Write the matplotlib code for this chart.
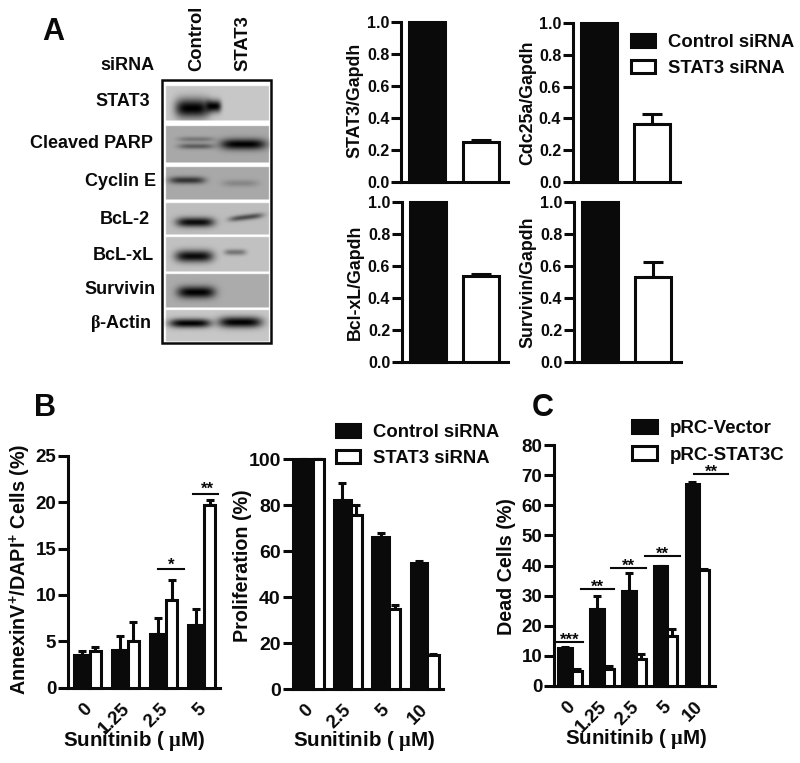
import numpy as np
from matplotlib import pyplot as plt
from matplotlib.patches import Patch, Rectangle

# Panel A quantification
a_ylabels = ["STAT3/Gapdh", "Cdc25a/Gapdh", "Bcl-xL/Gapdh", "Survivin/Gapdh"]
a_control = [1.0, 1.0, 1.0, 1.0]
a_stat3 = [0.245, 0.365, 0.54, 0.53]
a_stat3_err = [0.015, 0.06, 0.01, 0.095]

# Panel B, apoptosis
b1_labels = ["0", "1.25", "2.5", "5"]
b1_control = [3.5, 4.0, 5.8, 6.8]
b1_control_err = [0.4, 1.6, 1.7, 1.7]
b1_stat3 = [3.9, 5.0, 9.5, 19.7]
b1_stat3_err = [0.5, 2.1, 2.1, 0.5]

# Panel B, proliferation
b2_labels = ["0", "2.5", "5", "10"]
b2_control = [100, 82, 66, 55]
b2_control_err = [0, 7.5, 2, 0.5]
b2_stat3 = [100, 75.5, 35, 15]
b2_stat3_err = [0, 4.5, 1.5, 0.3]

# Panel C
c_labels = ["0", "1.25", "2.5", "5", "10"]
c_vector = [12.7, 25.5, 31.5, 40, 67]
c_vector_err = [0.3, 4.5, 6, 0, 0.8]
c_stat3c = [5, 5.5, 9, 16.5, 38.5]
c_stat3c_err = [0.8, 1, 1.5, 2.5, 0.2]
c_sig_labels = ["***", "**", "**", "**", "**"]
c_sig_y = [14.7, 32.2, 39.3, 43, 70.4]

# Western blot, lane labels and background grey of each strip
blot_labels = ["STAT3", "Cleaved PARP", "Cyclin E", "BcL-2", "BcL-xL", "Survivin", r"$\mathrm{\beta}$-Actin"]
blot_label_x = [123, 92, 121, 125, 123, 120, 121]
blot_label_y = [102, 144, 181, 220, 256, 289, 324]
strip_top = [86, 126, 167, 203, 237, 274, 310]
strip_bottom = [120, 162, 199, 234, 271, 307, 341]
strip_grey = [0.78, 0.66, 0.66, 0.74, 0.76, 0.67, 0.78]
# strip index, x centre, half width, y centre, half height, darkness, tilt
bands = [
    (0, 192, 17, 108, 9.5, 1.0, 0), (0, 213, 8, 106, 6, 1.0, 0),
    (1, 196, 18, 139, 2.6, 0.3, 0), (1, 196, 18, 146, 2.8, 0.45, 0), (1, 243, 23, 144, 5.5, 1.0, 0),
    (2, 187, 18, 180, 3.6, 0.7, 0), (2, 240, 18, 183, 3.5, 0.2, 0),
    (3, 195, 19, 222, 4.8, 0.95, 0), (3, 246, 17, 217, 2.8, 0.6, -0.12),
    (4, 194, 19, 256, 6, 0.95, 0), (4, 235, 11, 252, 3, 0.4, 0),
    (5, 196, 19, 292, 6, 1.0, 0),
    (6, 190, 21, 323, 4.5, 1.0, 0), (6, 240, 22, 322, 5.5, 1.0, 0),
]

plt.rcParams["font.family"] = ["Liberation Sans", "DejaVu Sans"]
plt.rcParams["font.weight"] = "bold"
plt.rcParams["axes.labelweight"] = "bold"
plt.rcParams["mathtext.fontset"] = "custom"
plt.rcParams["mathtext.rm"] = "Liberation Serif"
plt.rcParams["mathtext.bf"] = "Liberation Sans:bold"

W, H = 800, 763
LW = 2.2
INK = "#0a0a0a"
UM = r"Sunitinib ( $\mathrm{\mu}$M)"

fig = plt.figure(figsize=(W / 100, H / 100), dpi=100)


def make_axes(left, right, top, bottom, ymax, yticks, fmt, size):
    ax = fig.add_axes([left / W, 1 - bottom / H, (right - left) / W, (bottom - top) / H])
    ax.set_xlim(0, right - left)
    ax.set_ylim(0, ymax)
    ax.patch.set_alpha(0)
    for side in ["top", "right"]:
        ax.spines[side].set_visible(False)
    for side in ["left", "bottom"]:
        ax.spines[side].set_linewidth(LW)
        ax.spines[side].set_color(INK)
    ax.set_yticks(yticks)
    ax.set_yticklabels([fmt % t for t in yticks], fontsize=size, color=INK)
    ax.tick_params(axis="y", length=7, width=LW, pad=1.5, color=INK)
    ax.tick_params(axis="x", length=0)
    ax.set_xticks([])
    return ax


def put_ylabel(ax, text, x_px, y_px, left, top, bottom, size):
    ax.set_ylabel(text, fontsize=size, color=INK, va="center")
    ax.yaxis.set_label_coords((x_px - left) / ax.get_xlim()[1], (bottom - y_px) / (bottom - top))


def draw_bars(ax, first, second, first_err, second_err, start, pitch, w1, w2, cap):
    x1 = start + pitch * np.arange(len(first))
    x2 = x1 + w1
    ax.bar(x1, first, w1, align="edge", color=INK, edgecolor=INK, linewidth=LW, clip_on=False, zorder=2)
    ax.bar(x2, second, w2, align="edge", color="white", edgecolor=INK, linewidth=LW, clip_on=False, zorder=3)
    ax.errorbar(x1 + w1 / 2, first, yerr=[np.zeros(len(first)), first_err], fmt="none", ecolor=INK,
                elinewidth=LW, capsize=cap, capthick=LW, clip_on=False, zorder=1)
    ax.errorbar(x2 + w2 / 2, second, yerr=[np.zeros(len(second)), second_err], fmt="none", ecolor=INK,
                elinewidth=LW, capsize=cap, capthick=LW, clip_on=False, zorder=1)
    return (x1 + x2 + w2) / 2


def dose_ticks(ax, centers, labels, shift):
    ax.set_xticks(centers + shift)
    ax.set_xticklabels(labels, rotation=45, ha="right", rotation_mode="anchor", fontsize=13.5, color=INK)
    ax.tick_params(axis="x", length=0, pad=9)


def add_legend(labels, x, y, size):
    handles = [Patch(facecolor=INK, edgecolor=INK, linewidth=LW),
               Patch(facecolor="white", edgecolor=INK, linewidth=LW)]
    fig.legend(handles, labels, loc="upper left", bbox_to_anchor=(x / W, 1 - y / H), frameon=False,
               borderpad=0, borderaxespad=0, fontsize=size, handlelength=1.35, handleheight=0.75,
               handletextpad=0.7, labelspacing=0.5, labelcolor=INK)


# Panel A bar charts
a_boxes = [(401.5, 508, 22, 181.5, 355, 100), (573, 680, 23, 182, 528, 103),
           (402, 508, 202, 362, 355, 282), (574, 681, 202, 362, 528, 282)]
for i, (l, r, t, b, lab_x, lab_y) in enumerate(a_boxes):
    ax = make_axes(l, r, t, b, 1.0, [0, 0.2, 0.4, 0.6, 0.8, 1.0], "%.1f", 11.5)
    ax.bar([8], a_control[i], 36, align="edge", color=INK, edgecolor=INK, linewidth=LW, clip_on=False, zorder=2)
    ax.bar([61], a_stat3[i], 36, align="edge", color="white", edgecolor=INK, linewidth=LW, zorder=3)
    ax.errorbar([79], [a_stat3[i]], yerr=[[0], [a_stat3_err[i]]], fmt="none", ecolor=INK, elinewidth=LW,
                capsize=7, capthick=LW, zorder=1)
    put_ylabel(ax, a_ylabels[i], lab_x, lab_y, l, t, b, 12.8)
add_legend(["Control siRNA", "STAT3 siRNA"], 630.5, 33.5, 13.3)

# Panel B, left
ax = make_axes(68, 220, 456, 687.5, 25, [0, 5, 10, 15, 20, 25], "%d", 13.5)
centers = draw_bars(ax, b1_control, b1_stat3, b1_control_err, b1_stat3_err, 5.5, 38.3, 16, 11, 3)
dose_ticks(ax, centers, b1_labels, -4)
ax.set_xlabel(UM, fontsize=14.8, color=INK, va="center")
ax.xaxis.set_label_coords((134 - 68) / 152, -(741 - 687.5) / 231.5)
put_ylabel(ax, r"AnnexinV$\mathbf{^{+}}$/DAPI$\mathbf{^{+}}$ Cells (%)", 20, 569, 68, 456, 687.5, 14.2)
ax.plot([90, 116], [12.8, 12.8], color=INK, linewidth=1.5, clip_on=False)
ax.text(103, 13.2, "*", ha="center", va="center", fontsize=12, color=INK)
ax.plot([125, 150], [20.9, 20.9], color=INK, linewidth=1.5, clip_on=False)
ax.text(139, 21.4, "**", ha="center", va="center", fontsize=12, color=INK)

# Panel B, right
ax = make_axes(292.5, 443, 459, 689, 100, [0, 20, 40, 60, 80, 100], "%d", 14)
centers = draw_bars(ax, b2_control, b2_stat3, b2_control_err, b2_stat3_err, 3.5, 38.2, 16.5, 11.5, 3)
dose_ticks(ax, centers, b2_labels, -5.5)
ax.set_xlabel(UM, fontsize=14.8, color=INK, va="center")
ax.xaxis.set_label_coords((364 - 292.5) / 150.5, -(741 - 689) / 230)
put_ylabel(ax, "Proliferation (%)", 242, 566, 292.5, 459, 689, 14.2)
add_legend(["Control siRNA", "STAT3 siRNA"], 335.5, 423.5, 13.3)

# Panel C
ax = make_axes(554, 715, 445, 686, 80, list(range(0, 90, 10)), "%d", 13.5)
centers = draw_bars(ax, c_vector, c_stat3c, c_vector_err, c_stat3c_err, 4, 31.9, 13.7, 10, 3)
dose_ticks(ax, centers, c_labels, -3)
ax.set_xlabel(UM, fontsize=14.8, color=INK, va="center")
ax.xaxis.set_label_coords((636 - 554) / 161, -(739 - 686) / 241)
put_ylabel(ax, "Dead Cells (%)", 507, 567, 554, 445, 686, 14.2)
c_sig_start = [3, 26.5, 57, 91, 140]
c_sig_end = [29, 60, 92, 126, 174]
for x0, x1, y, lab in zip(c_sig_start, c_sig_end, c_sig_y, c_sig_labels):
    ax.plot([x0, x1], [y, y], color=INK, linewidth=1.5, clip_on=False)
    ax.text((x0 + x1) / 2, y + 0.6, lab, ha="center", va="center", fontsize=12, color=INK, clip_on=False)
add_legend(["pRC-Vector", "pRC-STAT3C"], 631.5, 419.5, 13.5)

# Overlay in figure pixels, for the blot and the free text
ov = fig.add_axes([0, 0, 1, 1])
ov.set_xlim(0, W)
ov.set_ylim(H, 0)
ov.axis("off")

x0, x1, y0, y1 = 163, 270, 80, 342
gx, gy = np.meshgrid(np.arange(x0, x1, 0.5), np.arange(y0, y1, 0.5))
img = np.ones_like(gx)
for k in range(len(strip_grey)):
    inside = (gy >= strip_top[k]) & (gy <= strip_bottom[k]) & (gx >= 166) & (gx <= 268.5)
    img[inside] = strip_grey[k]
for k, cx, hw, cy, hh, dark, tilt in bands:
    inside = (gy >= strip_top[k]) & (gy <= strip_bottom[k])
    shape = np.exp(-((gx - cx) / hw) ** 4) * np.exp(-((gy - cy - tilt * (gx - cx)) / hh) ** 2)
    img = np.where(inside, img * (1 - dark * shape), img)
ov.imshow(img, cmap="gray", vmin=0, vmax=1, extent=[x0, x1, y1, y0], aspect="auto", interpolation="bilinear")
ov.set_xlim(0, W)
ov.set_ylim(H, 0)
ov.add_patch(Rectangle((162, 79.5), 108.5, 263, fill=False, edgecolor=INK, linewidth=1.8))

for lab, lx, ly in zip(blot_labels, blot_label_x, blot_label_y):
    ov.text(lx, ly, lab, ha="center", va="center", fontsize=13, color=INK)
ov.text(127, 65, "siRNA", ha="center", va="center", fontsize=13, color=INK)
ov.text(197, 71, "Control", rotation=90, ha="center", va="bottom", fontsize=13.2, color=INK)
ov.text(243, 71, "STAT3", rotation=90, ha="center", va="bottom", fontsize=13.2, color=INK)

for lab, lx, ly in [("A", 53, 32), ("B", 45, 408), ("C", 543, 408)]:
    ov.text(lx, ly, lab, ha="center", va="center", fontsize=22, color=INK)

fig.savefig("out.png", dpi=100)
